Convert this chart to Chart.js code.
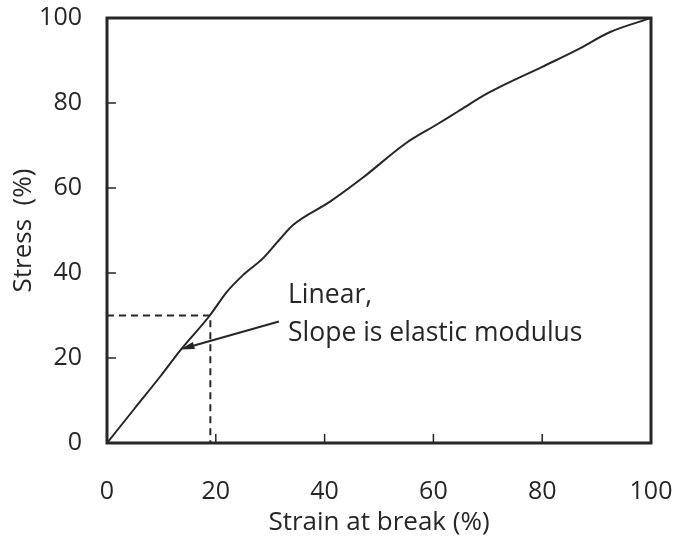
<!DOCTYPE html>
<html>
<head>
<meta charset="utf-8">
<script src="https://cdn.jsdelivr.net/npm/chart.js@4/dist/chart.umd.min.js"></script>
<style>
  html, body { margin: 0; padding: 0; background: #fff; }
  #wrap { width: 675px; height: 539px; }
</style>
</head>
<body>
<div id="wrap"><canvas id="myChart" width="675" height="539"></canvas></div>
<script>
'use strict';
// curve
const strain = [0, 5, 10, 13.4, 18.9, 22, 25, 28.7, 31.8, 34.2, 41, 47, 55, 60.7, 64.5, 70, 80, 86.4, 92.5, 100];
const stress = [0, 8, 16, 21.7, 30, 35.5, 39.5, 43.5, 48, 51.3, 56.8, 62.4, 70.6, 75, 78, 82.3, 88.5, 92.5, 96.7, 100];
const guideX = [0, 19, 19];
const guideY = [30, 30, 0];
const tickValues = [0, 20, 40, 60, 80, 100];
const arrowFrom = [31.6, 28.6];
const arrowTo = [13.4, 22];
const noteLines = ['Linear,', 'Slope is elastic modulus'];

const ink = '#262626';
const fontFamily = '"Open Sans", sans-serif';

function toPoints(xs, ys) {
  return xs.map((x, i) => ({ x: x, y: ys[i] }));
}

function zeroPad(scale) {
  scale.paddingLeft = 0;
  scale.paddingRight = 0;
  scale.paddingTop = 0;
  scale.paddingBottom = 0;
}

const framePlugin = {
  id: 'frame',
  afterDatasetsDraw(chart) {
    const ctx = chart.ctx;
    const a = chart.chartArea;
    const xs = chart.scales.x;
    const ys = chart.scales.y;
    ctx.save();
    ctx.strokeStyle = ink;
    // inward tick marks
    ctx.lineWidth = 1.5;
    for (let i = 1; i < tickValues.length - 1; i++) {
      const px = xs.getPixelForValue(tickValues[i]);
      ctx.beginPath();
      ctx.moveTo(px, a.bottom);
      ctx.lineTo(px, a.bottom - 9);
      ctx.stroke();
      const py = ys.getPixelForValue(tickValues[i]);
      ctx.beginPath();
      ctx.moveTo(a.left, py);
      ctx.lineTo(a.left + 9, py);
      ctx.stroke();
    }
    // box
    ctx.lineWidth = 3;
    ctx.strokeRect(a.left, a.top, a.right - a.left, a.bottom - a.top);

    // arrow
    const x1 = xs.getPixelForValue(arrowFrom[0]);
    const y1 = ys.getPixelForValue(arrowFrom[1]);
    const x2 = xs.getPixelForValue(arrowTo[0]);
    const y2 = ys.getPixelForValue(arrowTo[1]);
    const ang = Math.atan2(y2 - y1, x2 - x1);
    const head = 15;
    ctx.lineWidth = 2;
    ctx.beginPath();
    ctx.moveTo(x1, y1);
    ctx.lineTo(x2 - Math.cos(ang) * head * 0.8, y2 - Math.sin(ang) * head * 0.8);
    ctx.stroke();
    ctx.fillStyle = ink;
    ctx.beginPath();
    ctx.moveTo(x2, y2);
    ctx.lineTo(x2 - head * Math.cos(ang - 0.25), y2 - head * Math.sin(ang - 0.25));
    ctx.lineTo(x2 - head * Math.cos(ang + 0.25), y2 - head * Math.sin(ang + 0.25));
    ctx.closePath();
    ctx.fill();

    // note text
    ctx.font = '26.5px ' + fontFamily;
    ctx.textBaseline = 'alphabetic';
    ctx.textAlign = 'left';
    ctx.fillText(noteLines[0], 288, 303);
    ctx.fillText(noteLines[1], 288, 341);
    ctx.restore();
  }
};

const ctx = document.getElementById('myChart').getContext('2d');
const chart = new Chart(ctx, {
  type: 'scatter',
  data: {
    datasets: [{
      data: toPoints(strain, stress),
      showLine: true,
      borderColor: ink,
      borderWidth: 2,
      pointRadius: 0,
      cubicInterpolationMode: 'monotone'
    },
    {
      data: toPoints(guideX, guideY),
      showLine: true,
      borderColor: ink,
      borderWidth: 2,
      borderDash: [7, 5],
      pointRadius: 0,
      tension: 0
    }]
  },
  options: {
    responsive: false,
    animation: false,
    events: [],
    layout: { padding: { left: 0, top: 18, right: 24, bottom: 0 } },
    plugins: { legend: { display: false }, tooltip: { enabled: false } },
    scales: {
      x: {
        type: 'linear',
        min: 0,
        max: 100,
        afterFit(scale) { scale.height = 96; zeroPad(scale); },
        afterBuildTicks(scale) { scale.ticks = tickValues.map(v => ({ value: v })); },
        grid: { display: false, drawTicks: false },
        border: { display: false },
        ticks: { color: ink, padding: 34, maxRotation: 0, font: { family: fontFamily, size: 25 } },
        title: { display: true, text: 'Strain at break (%)', color: ink, padding: { top: 0, bottom: 1 }, font: { family: fontFamily, size: 26 } }
      },
      y: {
        type: 'linear',
        min: 0,
        max: 100,
        afterFit(scale) { scale.width = 107; zeroPad(scale); },
        afterBuildTicks(scale) { scale.ticks = tickValues.map(v => ({ value: v })); },
        grid: { display: false, drawTicks: false },
        border: { display: false },
        ticks: { color: ink, padding: 25, font: { family: fontFamily, size: 25 } },
        title: { display: true, text: 'Stress  (%)', color: ink, padding: { top: 8, bottom: 0 }, font: { family: fontFamily, size: 26 } }
      }
    }
  },
  plugins: [framePlugin]
});
</script>
</body>
</html>
